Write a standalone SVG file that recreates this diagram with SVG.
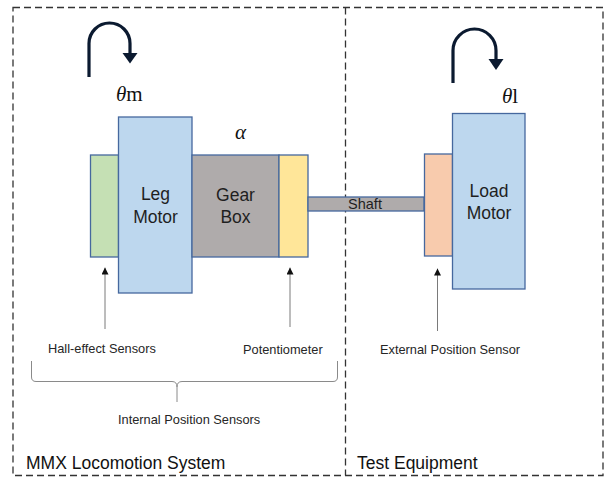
<svg xmlns="http://www.w3.org/2000/svg" width="608" height="478" viewBox="0 0 608 478">
  <style>
    .frame { fill: none; stroke: #333; stroke-width: 1.3; stroke-dasharray: 7 4; }
    .block { stroke: #46689e; stroke-width: 1.3; }
    .lbl { font-family: "Liberation Sans", Arial, sans-serif; fill: #1f1f1f; text-anchor: middle; }
    .note { font-family: "Liberation Sans", Arial, sans-serif; fill: #262626; font-size: 12.8px; }
    .sys { font-family: "Liberation Sans", Arial, sans-serif; fill: #111; font-size: 17.5px; }
    .math { font-family: "Liberation Serif", "Times New Roman", serif; fill: #111; font-size: 21px; }
    .rot { fill: none; stroke: #0b1a30; stroke-width: 3.2; }
    .pointer { stroke: #7a7a7a; stroke-width: 1; }
    .brace { fill: none; stroke: #8a8a8a; stroke-width: 1; }
  </style>
  <defs>
    <!-- small solid head, drawn along +x so orient="auto" follows the line -->
    <marker id="tip" markerWidth="7" markerHeight="7" refX="7" refY="3.5" orient="auto" markerUnits="userSpaceOnUse" viewBox="0 0 7 7">
      <path d="M0,0 L7,3.5 L0,7 Z" fill="#111"/>
    </marker>
  </defs>

  <rect width="608" height="478" fill="#fff"/>

  <!-- system boundaries -->
  <g id="boundaries">
    <rect class="frame" x="13" y="7.5" width="590" height="468"/>
    <line class="frame" x1="345.5" y1="7.5" x2="345.5" y2="475.5"/>
    <text class="sys" x="26" y="469">MMX Locomotion System</text>
    <text class="sys" x="357" y="469">Test Equipment</text>
  </g>

  <!-- rotation indicators -->
  <g id="rotation-motor">
    <path class="rot" d="M89,77 L89,43.5 A20.5,20.5 0 0 1 130,43.5 L130,55"/>
    <polygon points="122.5,53 137.5,53 130,63.5" fill="#0b1a30"/>
    <text class="math" x="116" y="101"><tspan font-style="italic">θ</tspan>m</text>
  </g>
  <g id="rotation-load">
    <path class="rot" d="M453,83 L453,50.5 A21.5,21.5 0 0 1 496,50.5 L496,61"/>
    <polygon points="488.5,59 503.5,59 496,70" fill="#0b1a30"/>
    <text class="math" x="502" y="103"><tspan font-style="italic">θ</tspan>l</text>
  </g>
  <g id="gear-ratio">
    <text class="math" x="235" y="139" font-style="italic">α</text>
  </g>

  <!-- drive train blocks -->
  <g id="hall-sensor">
    <rect class="block" x="90.5" y="155" width="28" height="102" fill="#c5e0b4"/>
  </g>
  <g id="leg-motor">
    <rect class="block" x="118.5" y="117" width="73.5" height="176" fill="#bdd7ee"/>
    <text class="lbl" font-size="17.5" x="155.5" y="200">Leg</text>
    <text class="lbl" font-size="17.5" x="155.5" y="223">Motor</text>
  </g>
  <g id="gear-box">
    <rect class="block" x="192" y="155" width="87" height="102" fill="#afabab"/>
    <text class="lbl" font-size="17.5" x="235.5" y="201">Gear</text>
    <text class="lbl" font-size="17.5" x="235.5" y="223">Box</text>
  </g>
  <g id="potentiometer">
    <rect class="block" x="279" y="155" width="29" height="102" fill="#ffe699"/>
  </g>
  <g id="shaft">
    <rect class="block" x="308" y="197" width="116" height="14" fill="#afabab"/>
    <text class="lbl" font-size="14.5" x="365" y="209">Shaft</text>
  </g>
  <g id="external-sensor">
    <rect class="block" x="424.5" y="154" width="28" height="102" fill="#f8cbad"/>
  </g>
  <g id="load-motor">
    <rect class="block" x="452.5" y="113.5" width="72.5" height="175.5" fill="#bdd7ee"/>
    <text class="lbl" font-size="17.5" x="489" y="197">Load</text>
    <text class="lbl" font-size="17.5" x="489" y="219">Motor</text>
  </g>

  <!-- sensor labels -->
  <g id="labels">
    <text class="note" x="48" y="353">Hall-effect Sensors</text>
    <text class="note" x="243" y="354">Potentiometer</text>
    <text class="note" x="380" y="354">External Position Sensor</text>
    <text class="note" x="118" y="424">Internal Position Sensors</text>
  </g>

  <!-- connectors -->
  <g id="connectors">
    <line class="pointer" x1="105" y1="329" x2="105" y2="267.5" marker-end="url(#tip)"/>
    <line class="pointer" x1="290" y1="327" x2="290" y2="267.5" marker-end="url(#tip)"/>
    <line class="pointer" x1="437.5" y1="331" x2="437.5" y2="268.5" marker-end="url(#tip)"/>
    <path class="brace" d="M31.5,361 L31.5,377 Q31.5,381.5 36,381.5 L172,381.5 Q177,381.5 177,387 L177,402 M177,387 Q177,381.5 182,381.5 L333,381.5 Q337.5,381.5 337.5,377 L337.5,361"/>
  </g>
</svg>
